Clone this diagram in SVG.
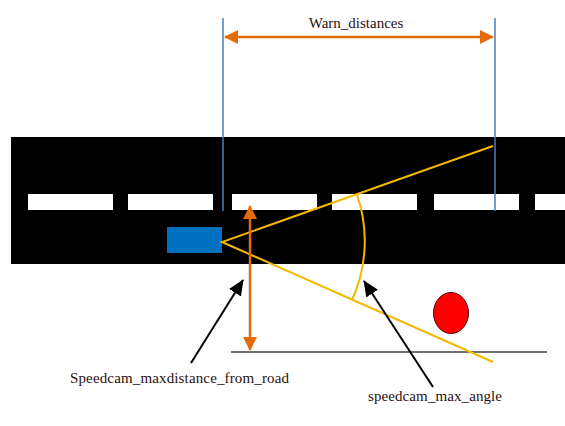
<svg xmlns="http://www.w3.org/2000/svg" width="565" height="426" viewBox="0 0 565 426">
<style>
.lbl{font-size:15px;fill:#2a0f0f}
.dash{fill:#ffffff}
.blue{stroke:#4a7cc8;stroke-width:1.5;fill:none}
.or{stroke:#E36C09;stroke-width:2.5;fill:none}
.yl{stroke:#F5B800;stroke-width:2;fill:none}
.blk{stroke:#000000;stroke-width:2;fill:none}
</style>
<defs>
<marker id="oh" viewBox="0 0 14 14" refX="13" refY="7" markerWidth="14" markerHeight="14" markerUnits="userSpaceOnUse" orient="auto-start-reverse">
<path d="M0,0 L14,7 L0,14 Z" fill="#E36C09"/>
</marker>
<marker id="bh" viewBox="0 0 16 14" refX="15" refY="7" markerWidth="16" markerHeight="14" markerUnits="userSpaceOnUse" orient="auto">
<path d="M0,0 L16,7 L0,14 Z" fill="#000000"/>
</marker>
</defs>
<rect width="565" height="426" fill="#ffffff"/>
<g id="road">
<rect x="11" y="137" width="554" height="127" fill="#000000"/>
<rect class="dash" x="28" y="194" width="85" height="16"/>
<rect class="dash" x="128" y="194" width="85" height="16"/>
<rect class="dash" x="232" y="194" width="85" height="16"/>
<rect class="dash" x="332" y="194" width="85" height="16"/>
<rect class="dash" x="434" y="194" width="85" height="16"/>
<rect class="dash" x="535" y="194" width="30" height="16"/>
</g>
<g id="ground-line">
<line x1="231" y1="352" x2="547" y2="352" stroke="#404040" stroke-width="1.5"/>
</g>
<g id="car">
<rect x="167" y="227" width="55" height="26" fill="#0070C0"/>
</g>
<g id="speedcam">
<ellipse cx="451" cy="313" rx="17.5" ry="20.5" fill="#FF0000" stroke="#5a0000" stroke-width="1"/>
</g>
<g id="warn-markers">
<line class="blue" x1="223" y1="18" x2="223" y2="211"/>
<line class="blue" x1="495" y1="18" x2="495" y2="211"/>
</g>
<g id="view-cone">
<polyline class="yl" points="493,146 222,242 493,362"/>
<path class="yl" d="M357,194.5 A143,143 0 0 1 352,300"/>
</g>
<g id="connectors">
<line class="or" x1="225" y1="37" x2="493" y2="37" marker-start="url(#oh)" marker-end="url(#oh)"/>
<line class="or" x1="250" y1="206" x2="250" y2="350" marker-start="url(#oh)" marker-end="url(#oh)"/>
<line class="blk" x1="191" y1="363" x2="243" y2="280" marker-end="url(#bh)"/>
<line class="blk" x1="433" y1="387" x2="364" y2="281" marker-end="url(#bh)"/>
</g>
<g id="labels">
<text class="lbl" x="356" y="28" text-anchor="middle" font-family="Liberation Serif, serif">Warn_distances</text>
<text class="lbl" x="70" y="383" textLength="219" lengthAdjust="spacing" font-family="Liberation Serif, serif">Speedcam_maxdistance_from_road</text>
<text class="lbl" x="368" y="401" textLength="134" lengthAdjust="spacing" font-family="Liberation Serif, serif">speedcam_max_angle</text>
</g>
</svg>
